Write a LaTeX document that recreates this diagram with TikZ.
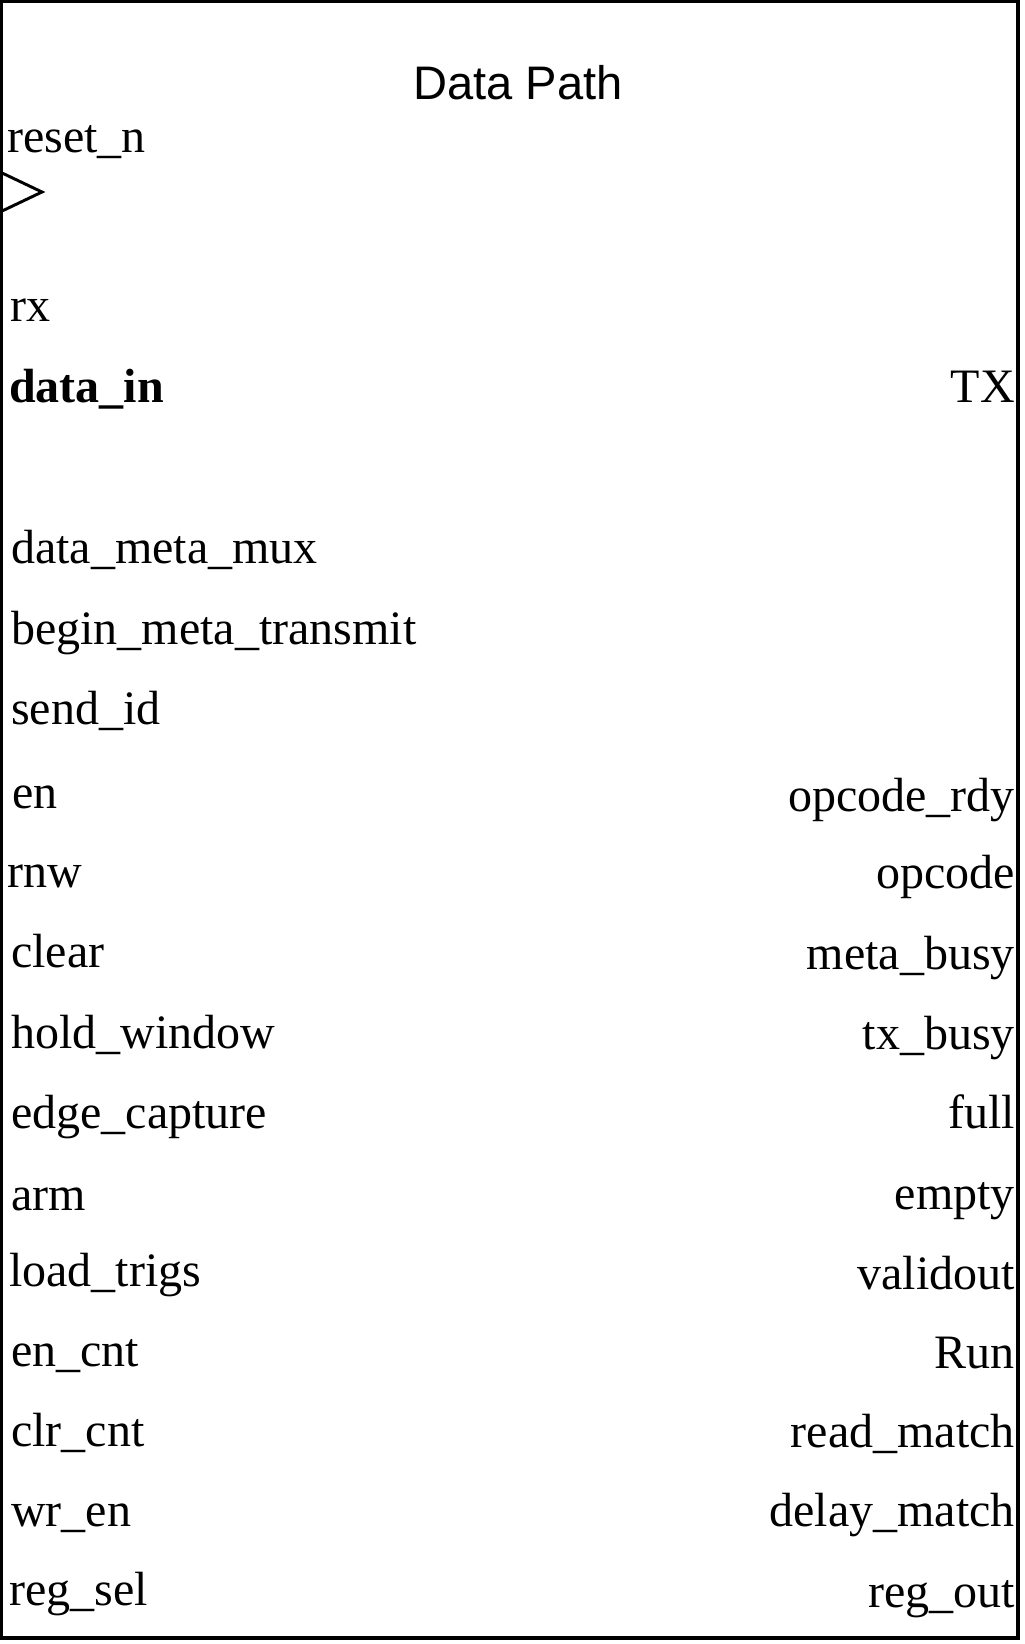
\documentclass[tikz,border=0pt]{standalone}
\usepackage{fontspec}
\setmainfont{Liberation Serif}
\setsansfont{Liberation Sans}
\begin{document}
\begin{tikzpicture}[x=0.75pt,y=-0.75pt,
  frame/.style={draw=black,line width=2.6pt},
  clk/.style={draw=black,line width=2.2pt,line join=miter},
  title/.style={anchor=base,inner sep=0pt,font=\sffamily\fontsize{35.3pt}{40pt}\selectfont},
  inport/.style={anchor=base west,inner sep=0pt,font=\fontsize{36pt}{40pt}\selectfont},
  outport/.style={anchor=base east,inner sep=0pt,font=\fontsize{36pt}{40pt}\selectfont}]
\useasboundingbox (0,0) rectangle (1024,1644);
% block outline
\draw[frame] (1.5,1.5) rectangle (1018,1638);
% clock input marker
\draw[clk] (0,172) -- (42,192) -- (0,212);
% block name
\node[title] (ttl) at (518,100) {Data Path};
% input ports
\node[inport] (rstn)  at (7,153)   {reset\_n};
\node[inport] (rx)    at (10,322)  {rx};
\node[inport] (din)   at (9,402)   {\bfseries data\_in};
\node[inport] (dmm)   at (11,563)  {data\_meta\_mux};
\node[inport] (bmt)   at (11,644)  {begin\_meta\_transmit};
\node[inport] (sid)   at (11,724)  {send\_id};
\node[inport] (en)    at (12,808)  {en};
\node[inport] (rnw)   at (7,887)   {rnw};
\node[inport] (clr)   at (11,967)  {clear};
\node[inport] (hw)    at (11,1048) {hold\_window};
\node[inport] (ec)    at (11,1128) {edge\_capture};
\node[inport] (arm)   at (11,1210) {arm};
\node[inport] (lt)    at (9,1286)  {load\_trigs};
\node[inport] (encnt) at (11,1366) {en\_cnt};
\node[inport] (clrc)  at (11,1446) {clr\_cnt};
\node[inport] (wren)  at (11,1526) {wr\_en};
\node[inport] (rsel)  at (9,1605)  {reg\_sel};
% output ports
\node[outport] (tx)    at (1015,402)  {TX};
\node[outport] (ordy)  at (1015,811)  {opcode\_rdy};
\node[outport] (opc)   at (1015,888)  {opcode};
\node[outport] (mbsy)  at (1015,969)  {meta\_busy};
\node[outport] (tbsy)  at (1015,1049) {tx\_busy};
\node[outport] (full)  at (1015,1128) {full};
\node[outport] (empt)  at (1015,1209) {empty};
\node[outport] (vout)  at (1015,1289) {validout};
\node[outport] (run)   at (1015,1368) {Run};
\node[outport] (rdm)   at (1015,1447) {read\_match};
\node[outport] (dlm)   at (1015,1526) {delay\_match};
\node[outport] (rout)  at (1015,1607) {reg\_out};
\end{tikzpicture}
\end{document}
